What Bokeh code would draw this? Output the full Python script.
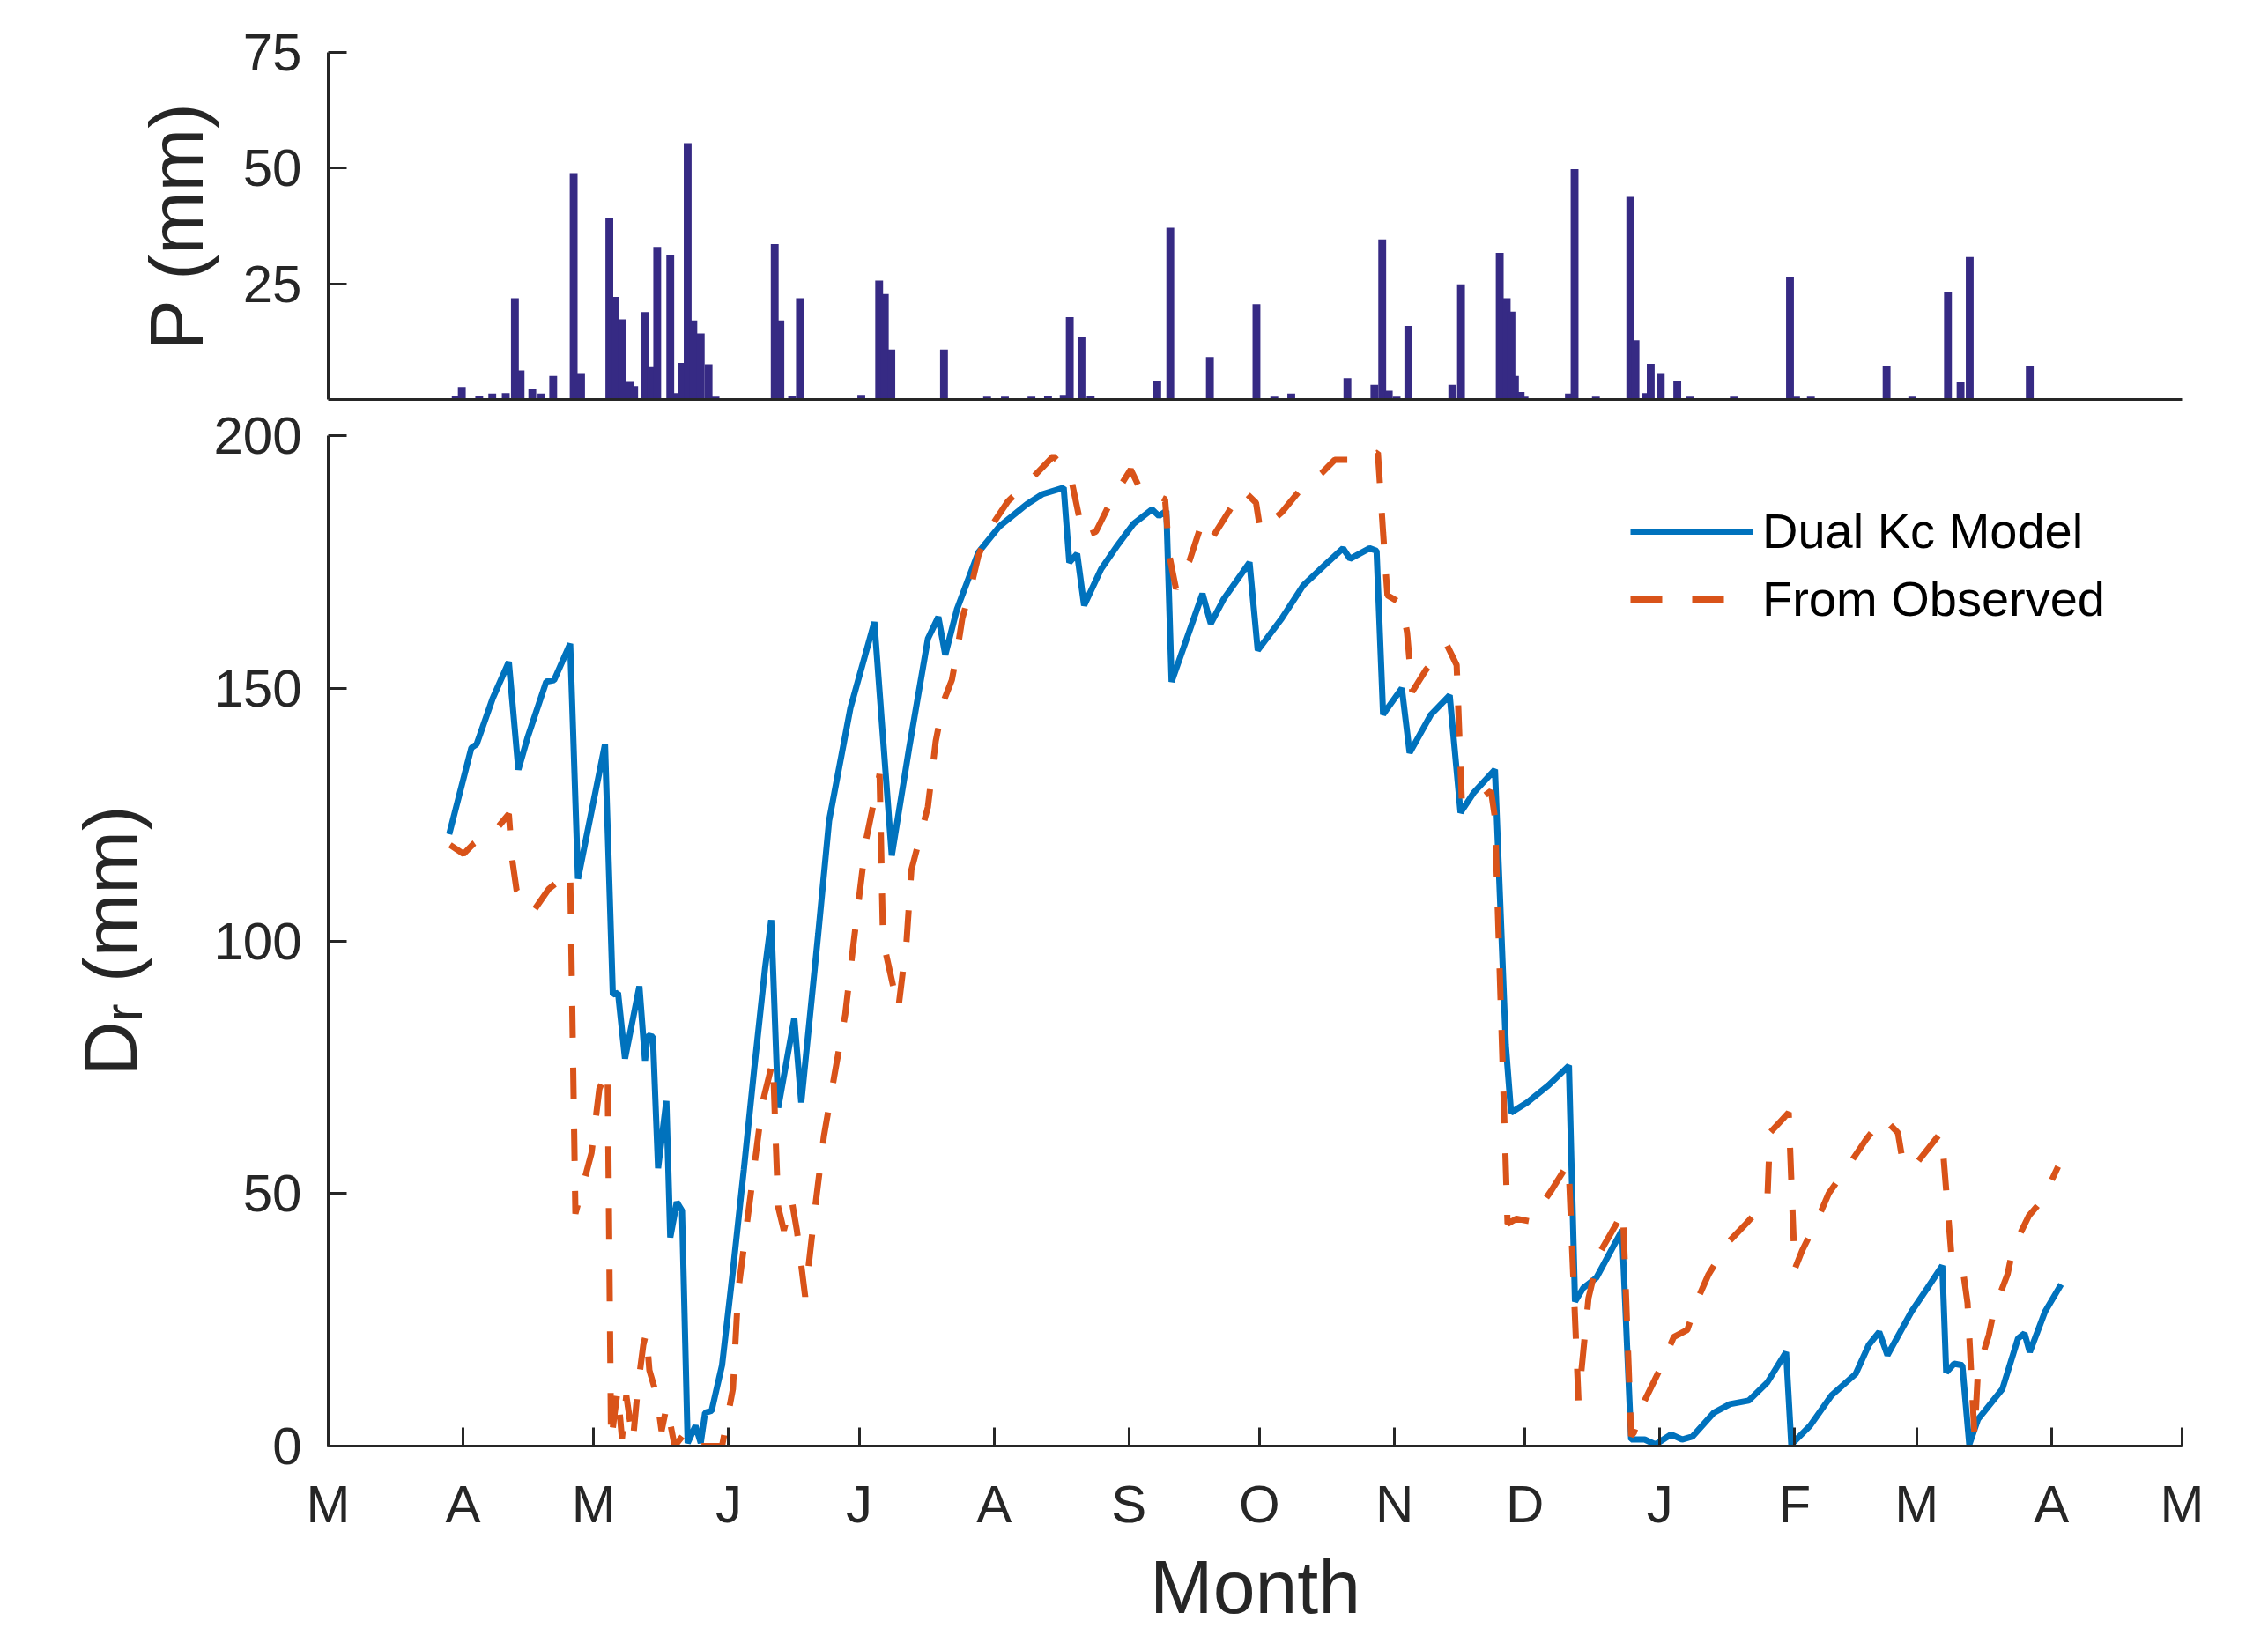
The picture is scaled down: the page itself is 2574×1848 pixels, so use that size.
from bokeh.plotting import figure
from bokeh.models import Range1d, FixedTicker, Legend, LegendItem
from bokeh.layouts import column
from bokeh.embed import file_html
from bokeh.resources import INLINE
from bokeh.core.properties import value

# x positions are days since 1 March 2014
month_day = [0, 31, 61, 92, 122, 153, 184, 214, 245, 275, 306, 337, 365, 396, 426]
month_labels = ["M", "A", "M", "J", "J", "A", "S", "O", "N", "D", "J", "F", "M", "A", "M"]

precip_day = [29.3, 30.7, 34.7, 37.7, 40.8, 42.9, 44.2, 46.9, 49.0, 51.7, 56.4, 58.1,
              64.6, 66.0, 67.6, 69.3, 70.3, 72.7, 74.1, 75.6, 78.6, 80.2, 81.3, 82.6,
              83.9, 85.6, 87.4, 89.0, 102.6, 103.9, 106.6, 108.4, 122.5, 126.6, 127.9,
              129.4, 141.5, 151.4, 155.5, 161.6, 165.4, 169.0, 170.4, 173.1, 175.2,
              190.5, 193.5, 202.6, 213.3, 217.4, 221.3, 234.2, 240.4, 242.2, 243.7,
              245.5, 248.2, 258.3, 260.3, 269.2, 270.8, 271.9, 272.7, 274.0, 274.9,
              285.1, 286.4, 291.3, 299.2, 300.4, 302.7, 303.9, 306.2, 310.0, 313.0,
              323.0, 335.9, 337.3, 340.7, 358.1, 364.0, 372.2, 375.1, 377.2, 391.0]
precip_mm = [0.8, 2.7, 0.8, 1.3, 1.4, 21.9, 6.3, 2.2, 1.3, 5.1, 48.9, 5.7,
             39.3, 22.2, 17.3, 3.8, 2.9, 18.9, 7.0, 33.0, 31.1, 1.4, 7.9, 55.4,
             17.1, 14.3, 7.6, 0.6, 33.6, 17.1, 0.8, 21.9, 1.0, 25.7, 22.8,
             10.8, 10.8, 0.6, 0.6, 0.6, 0.8, 1.0, 17.8, 13.6, 0.8,
             4.1, 37.1, 9.2, 20.6, 0.6, 1.3, 4.6, 3.2, 34.6, 1.9,
             0.6, 15.9, 3.2, 24.9, 31.7, 21.9, 19.0, 5.1, 1.6, 0.6,
             1.3, 49.8, 0.6, 43.8, 12.8, 1.4, 7.7, 5.7, 4.1, 0.6,
             0.6, 26.5, 0.6, 0.6, 7.3, 0.6, 23.2, 3.7, 30.8, 7.3]

model_day = [27.8, 32.9, 34.1, 37.8, 41.5, 43.7, 45.8, 50.1, 51.9, 55.6, 57.4, 63.6,
             65.4, 66.6, 68.2, 71.5, 72.8, 73.4, 74.6, 75.8, 77.7, 78.6, 80.1, 81.3,
             82.6, 84.4, 85.6, 86.6, 88.1, 90.5, 93.0, 95.5, 97.9, 100.4, 101.8,
             103.4, 107.1, 108.7, 112.6, 115.1, 120.0, 125.5, 129.5, 133.5, 137.8,
             140.2, 141.8, 144.5, 149.4, 154.3, 160.5, 164.1, 169.0, 170.3, 172.1,
             173.7, 177.6, 181.3, 185.0, 189.3, 190.9, 192.6, 193.8, 200.9, 202.8,
             205.8, 211.7, 213.6, 219.1, 224.0, 228.9, 233.2, 234.8, 239.3, 240.9,
             242.4, 246.7, 248.5, 253.4, 257.7, 260.2, 263.2, 268.1, 270.6, 271.8,
             275.5, 280.4, 285.1, 286.5, 288.4, 291.4, 297.3, 299.4, 302.5, 305.0,
             308.6, 311.1, 313.5, 318.4, 322.1, 326.4, 330.7, 335.0, 336.2, 340.5,
             345.4, 351.0, 354.0, 356.4, 358.3, 363.8, 367.5, 370.9, 371.8, 373.6,
             375.5, 377.1, 379.1, 384.7, 388.3, 389.8, 391.0, 394.5, 398.2]
model_dr = [121.1, 138.2, 138.9, 148.0, 155.2, 133.9, 140.2, 151.3, 151.6, 158.8, 112.3, 138.9,
            89.4, 89.7, 76.7, 91.0, 76.3, 81.3, 81.0, 55.0, 68.3, 41.3, 48.3, 46.6,
            0.6, 4.0, 0.6, 6.6, 7.0, 16.0, 34.7, 54.7, 74.7, 94.7, 104.1,
            67.0, 84.7, 68.0, 101.4, 123.8, 146.1, 163.1, 116.9, 138.2, 159.8,
            164.1, 156.6, 165.7, 176.9, 182.1, 186.4, 188.4, 189.7, 174.9, 176.6,
            166.4, 173.6, 178.2, 182.5, 185.4, 184.1, 185.1, 151.3, 168.7, 162.8,
            167.7, 174.9, 157.5, 163.8, 170.3, 174.3, 177.7, 175.6, 177.7, 177.2,
            144.8, 150.0, 137.2, 144.8, 148.6, 125.4, 129.3, 133.9, 79.4, 66.0,
            68.0, 71.4, 75.3, 28.6, 31.3, 33.3, 42.7, 1.3, 1.3, 0.3,
            2.3, 1.3, 1.9, 6.6, 8.3, 9.0, 12.6, 18.6, 0.3, 4.0,
            10.0, 14.3, 20.0, 22.6, 18.0, 26.6, 31.3, 35.7, 14.6, 16.3,
            16.0, 0.3, 5.3, 11.3, 21.3, 22.3, 18.6, 26.6, 32.0]

obs_day = [28.0, 31.1, 33.5, 39.0, 41.5, 42.3, 43.3, 47.0, 50.7, 55.6, 56.8, 60.5,
           62.3, 64.2, 65.0, 66.5, 67.5, 68.5, 70.0, 71.2, 72.4, 73.1, 73.8, 75.5,
           76.6, 77.8, 79.6, 82.0, 83.2, 90.5, 93.0, 94.2, 96.1, 97.9, 99.8, 102.2,
           102.8, 103.4, 104.7, 106.5, 107.7, 109.6, 112.0, 113.9, 116.3, 118.8,
           120.6, 123.6, 126.7, 127.5, 131.0, 132.9, 134.0, 137.8, 139.6, 141.4,
           143.3, 144.5, 145.7, 147.6, 149.4, 151.9, 156.2, 161.1, 166.6, 169.7,
           170.9, 173.5, 176.4, 180.1, 184.4, 186.8, 189.9, 192.3, 193.3, 194.8,
           197.9, 200.3, 202.2, 205.8, 210.1, 213.2, 214.2, 219.1, 223.4, 228.3,
           231.3, 234.4, 238.1, 241.2, 242.4, 243.4, 246.7, 247.9, 249.1, 252.2,
           257.1, 259.3, 260.5, 263.2, 267.2, 268.1, 271.0, 273.0, 276.1, 281.0,
           285.0, 287.3, 289.6, 292.0, 296.0, 297.5, 299.4, 300.0, 302.5, 305.9,
           309.2, 312.3, 314.8, 317.2, 322.1, 325.8, 330.7, 331.3, 335.6, 337.0,
           338.7, 342.3, 344.8, 349.7, 353.4, 357.3, 360.7, 362.0, 365.0, 370.5,
           371.2, 373.0, 375.5, 376.7, 378.3, 379.1, 381.6, 382.8, 385.9, 387.1,
           390.8, 393.9, 397.5]
obs_dr = [119.0, 117.2, 119.3, 122.5, 125.1, 116.0, 110.0, 105.7, 110.3, 113.6, 46.0, 58.0,
          70.7, 74.4, 1.0, 11.0, 1.5, 10.0, 1.0, 12.0, 20.0, 22.5, 15.0, 10.0,
          3.0, 8.0, 0.0, 2.6, 0.0, 0.0, 11.3, 30.6, 43.3, 55.3, 68.0, 76.3,
          61.3, 47.3, 42.7, 48.7, 42.7, 29.6, 48.0, 61.3, 73.3, 85.4,
          98.7, 120.0, 133.0, 100.0, 86.5, 100.0, 114.0, 126.5, 139.5, 147.4,
          151.6, 157.2, 163.8, 169.7, 176.2, 181.5, 187.0, 191.0, 195.9, 193.3,
          190.7, 180.0, 181.0, 187.4, 193.3, 189.0, 188.4, 187.4, 176.2, 169.7,
          175.2, 181.5, 178.5, 183.4, 189.3, 186.7, 181.2, 184.8, 189.3, 192.6,
          195.2, 195.2, 195.9, 196.6, 180.8, 168.4, 166.7, 161.1, 149.3, 153.6,
          158.5, 154.6, 127.5, 127.1, 129.7, 124.4, 44.0, 45.0, 44.5, 50.5,
          56.0, 9.0, 29.3, 38.0, 44.0, 46.6, 2.0, 2.6, 9.0, 15.0,
          21.6, 23.0, 29.3, 34.0, 40.7, 44.0, 48.7, 62.0, 66.0, 35.0,
          38.7, 45.0, 50.0, 56.0, 60.7, 65.0, 62.0, 55.3, 56.0, 62.0,
          57.0, 37.7, 35.7, 28.3, 2.0, 15.0, 22.0, 27.0, 34.0, 39.0,
          45.6, 48.7, 55.3]

FONT = "Liberation Sans"
AX = "#262626"
BLUE = "#0072BD"
ORANGE = "#D95319"
BAR = "#362A84"
FW = 2104
LEFT = 372
RIGHT = 60


def style_axes(p):
    p.outline_line_color = None
    p.xgrid.visible = False
    p.ygrid.visible = False
    p.background_fill_color = "white"
    p.border_fill_color = "white"
    for ax in (p.xaxis[0], p.yaxis[0]):
        ax.axis_line_color = AX
        ax.axis_line_width = 3
        ax.major_tick_line_color = AX
        ax.major_tick_line_width = 3
        ax.major_tick_in = 21
        ax.major_tick_out = 0
        ax.minor_tick_in = 0
        ax.minor_tick_out = 0
        ax.major_label_text_font = FONT
        ax.major_label_text_font_size = "60px"
        ax.major_label_text_color = AX
        ax.axis_label_text_font = FONT
        ax.axis_label_text_font_style = "normal"
        ax.axis_label_text_color = AX


# ---------- precipitation panel ----------
top = figure(frame_width=FW, frame_height=394, x_range=Range1d(0, 426), y_range=Range1d(0, 75),
             output_backend="svg", toolbar_location=None,
             min_border_left=LEFT, min_border_right=RIGHT, min_border_top=59, min_border_bottom=2)
style_axes(top)
top.vbar(x=precip_day, top=precip_mm, bottom=0, width=1.8, fill_color=BAR, line_color=None)
top.xaxis.ticker = FixedTicker(ticks=[], minor_ticks=[])
top.xaxis.major_label_text_font_size = "0px"
top.xaxis.major_label_standoff = 0
top.yaxis.ticker = FixedTicker(ticks=[25, 50, 75], minor_ticks=[])
top.yaxis.major_label_standoff = 30
top.yaxis.axis_label = "P (mm)"
top.yaxis.axis_label_text_font_size = "86px"
top.yaxis.axis_label_standoff = 25

# ---------- root-zone depletion panel ----------
p = figure(frame_width=FW, frame_height=1147, x_range=Range1d(0, 426), y_range=Range1d(0, 200),
           output_backend="svg", toolbar_location=None,
           min_border_left=LEFT, min_border_right=RIGHT, min_border_top=39, min_border_bottom=110)
style_axes(p)
blue = p.line(model_day, model_dr, line_color=BLUE, line_width=7)
orange = p.line(obs_day, obs_dr, line_color=ORANGE, line_width=7, line_dash="36 34")

p.xaxis.ticker = FixedTicker(ticks=month_day, minor_ticks=[])
p.xaxis.major_label_overrides = {d: lab for d, lab in zip(month_day, month_labels)}
p.xaxis.major_label_standoff = 32

p.yaxis.ticker = FixedTicker(ticks=[0, 50, 100, 150, 200], minor_ticks=[])
p.yaxis.major_label_standoff = 30
p.yaxis.axis_label = "D\u1d63 (mm)"
p.yaxis.axis_label_text_font_size = "86px"
p.yaxis.axis_label_standoff = 66

legend = Legend(items=[LegendItem(label="Dual Kc Model", renderers=[blue]),
                       LegendItem(label="From Observed", renderers=[orange])],
                location=(1478, 929), border_line_color=None, background_fill_alpha=0,
                label_text_font=FONT, label_text_font_size="56px", label_text_color="black",
                glyph_width=140, glyph_height=64, label_height=64, label_standoff=10,
                spacing=12, padding=0, margin=0)
p.add_layout(legend)

# ---------- x-axis title strip ("Month") ----------
MH = 97
xt = figure(frame_width=FW, frame_height=MH, x_range=Range1d(0, 426), y_range=Range1d(0, MH),
            output_backend="svg", toolbar_location=None, title_location=None,
            x_axis_location=None, y_axis_location=None,
            min_border_left=LEFT, min_border_right=RIGHT, min_border_top=0, min_border_bottom=0)
xt.outline_line_color = None
xt.xgrid.visible = False
xt.ygrid.visible = False
xt.text(x=[213], y=[48], text=["Month"], text_align="center", text_baseline="middle",
        text_font=value(FONT), text_font_size="86px", text_color=AX)

layout = column(top, p, xt, spacing=0)
open("out.html", "w").write(file_html(layout, INLINE))
